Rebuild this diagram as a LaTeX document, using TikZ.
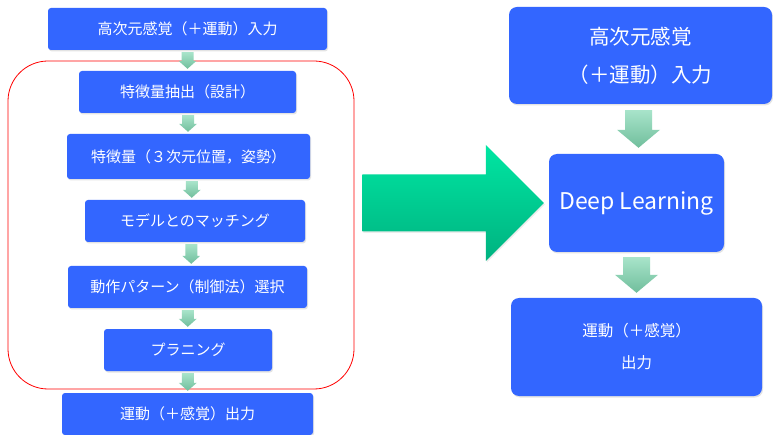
\documentclass[tikz,border=0pt]{standalone}
\usepackage{fontspec}
\setmainfont{Noto Sans CJK JP}
\usetikzlibrary{shadows,calc}
\definecolor{boxblue}{RGB}{51,102,255}
\definecolor{atop}{RGB}{168,228,202}
\definecolor{abot}{RGB}{112,190,156}
\definecolor{btop}{RGB}{0,230,162}
\definecolor{bbot}{RGB}{0,178,128}
\tikzset{
 box/.style={fill=boxblue, draw=none, text=white, inner sep=0pt, align=center,
   drop shadow={opacity=0.22, shadow xshift=1pt, shadow yshift=-1.5pt}},
 lbox/.style={box, rounded corners=3pt, font=\fontsize{15}{17}\selectfont},
 rbox/.style={box, rounded corners=8pt},
 groupframe/.style={draw=red, line width=0.8pt, rounded corners=40pt, inner sep=0pt},
 flow/.style={top color=atop, bottom color=abot, draw=none},
 bigflow/.style={top color=btop, bottom color=bbot, draw=none,
   drop shadow={opacity=0.15, shadow xshift=1pt, shadow yshift=-1.5pt}},
}
% block arrow from node #1 down to node #2: gap, shaft half width, head half width, head length
\newcommand{\flowarrow}[6]{%
 \path[flow] let \p1=(#1.south), \p2=(#2.north), \n1={(\x1+\x2)/2}, \n2={\y1-#3pt},
   \n3={\y2+#3pt}, \n4={\y2+#3pt+#6pt} in
   (\n1-#4pt,\n2) -- (\n1+#4pt,\n2) -- (\n1+#4pt,\n4) -- (\n1+#5pt,\n4)
   -- (\n1,\n3) -- (\n1-#5pt,\n4) -- (\n1-#4pt,\n4) -- cycle;}
\begin{document}
\begin{tikzpicture}[x=1pt,y=-1pt]
\useasboundingbox (0,0) rectangle (773,435);
\fill[white] (0,0) rectangle (773,435);
% group frame
\node[groupframe, minimum width=346pt, minimum height=328pt] (grp) at (181,225) {};
% left column
\node[lbox, minimum width=279pt, minimum height=42pt] (b1) at (187.5,29) {高次元感覚（＋運動）入力};
\node[lbox, minimum width=217pt, minimum height=42pt] (b2) at (187.5,92) {特徴量抽出（設計）};
\node[lbox, minimum width=243pt, minimum height=45pt] (b3) at (188.5,156.5) {特徴量（３次元位置，姿勢）};
\node[lbox, minimum width=220pt, minimum height=42pt] (b4) at (195,221) {モデルとのマッチング};
\node[lbox, minimum width=239pt, minimum height=42pt] (b5) at (187.5,287) {動作パターン（制御法）選択};
\node[lbox, minimum width=168pt, minimum height=42pt] (b6) at (188,350) {プラニング};
\node[lbox, minimum width=251pt, minimum height=42pt] (b7) at (187.5,414) {運動（＋感覚）出力};
% right column
\node[rbox, minimum width=263pt, minimum height=97pt, font=\fontsize{20.5}{38}\selectfont] (ra) at (640.5,55.5) {高次元感覚\\（＋運動）入力};
\node[rbox, minimum width=175pt, minimum height=98pt, font=\fontsize{23}{26}\selectfont] (rb) at (636.5,203) {Deep Learning};
\node[rbox, minimum width=251pt, minimum height=98pt, font=\fontsize{15.5}{32}\selectfont] (rc) at (636.5,347) {運動（＋感覚）\\出力};
% small flow arrows
\flowarrow{b1}{b2}{2}{6}{9}{8}
\flowarrow{b2}{b3}{2}{6}{9}{8}
\flowarrow{b3}{b4}{2}{6}{9}{8}
\flowarrow{b4}{b5}{2}{6}{9}{8}
\flowarrow{b5}{b6}{2}{6}{9}{8}
\flowarrow{b6}{b7}{2}{6}{9}{8}
\flowarrow{ra}{rb}{6}{13.5}{21.5}{18}
\flowarrow{rb}{rc}{5}{13.5}{21.5}{18}
% big arrow from the group to Deep Learning
\path[bigflow] let \p1=(grp.east), \p2=(rb.west), \n1={\x1+8pt}, \n2={\x2-5pt}, \n3={\x2-63pt} in
  (\n1,\y2+28.5pt) -- (\n3,\y2+28.5pt) -- (\n3,\y2+58pt) -- (\n2,\y2)
  -- (\n3,\y2-58pt) -- (\n3,\y2-28.5pt) -- (\n1,\y2-28.5pt) -- cycle;
\end{tikzpicture}
\end{document}
